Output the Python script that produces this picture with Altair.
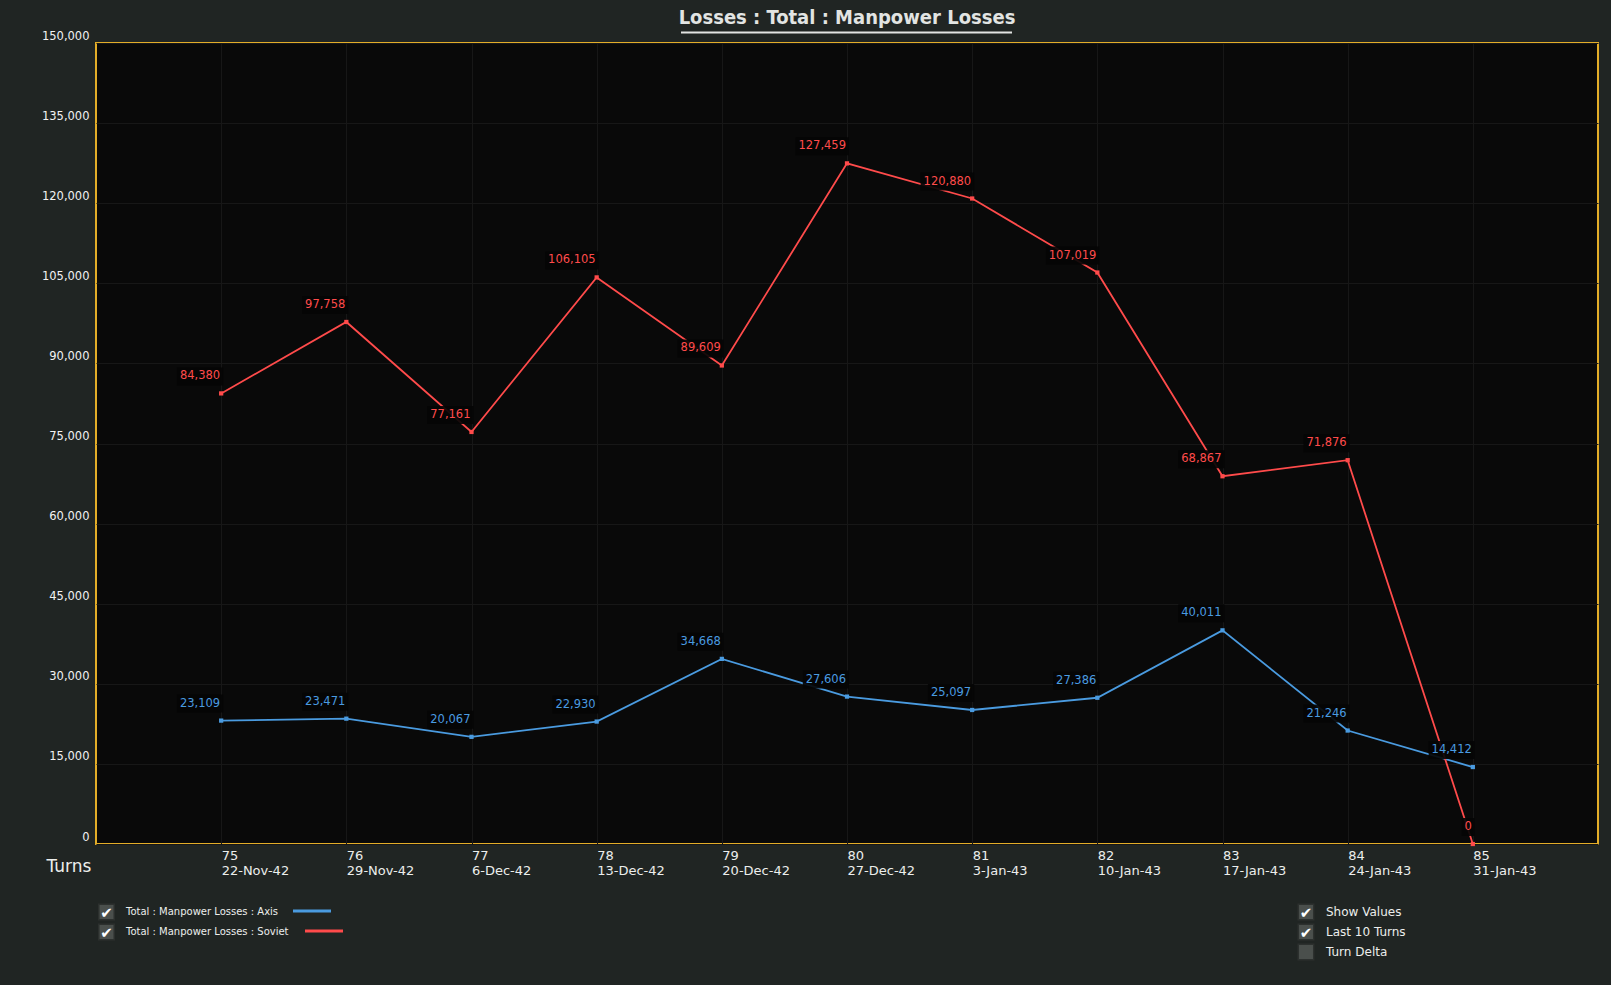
import altair as alt
import pandas as pd

# ---- data ----
turns = list(range(75, 86))
dates = ["22-Nov-42", "29-Nov-42", "6-Dec-42", "13-Dec-42", "20-Dec-42", "27-Dec-42",
         "3-Jan-43", "10-Jan-43", "17-Jan-43", "24-Jan-43", "31-Jan-43"]
axis_losses = [23109, 23471, 20067, 22930, 34668, 27606, 25097, 27386, 40011, 21246, 14412]
soviet_losses = [84380, 97758, 77161, 106105, 89609, 127459, 120880, 107019, 68867, 71876, 0]
sides = ["Axis", "Soviet"]
series_names = ["Total : Manpower Losses : Axis", "Total : Manpower Losses : Soviet"]
series_colors = ["#4a9be0", "#ff4b4b"]
y_ticks = list(range(0, 150001, 15000))
controls = ["Show Values", "Last 10 Turns", "Turn Delta"]
controls_checked = [True, True, False]
title_text = "Losses : Total : Manpower Losses"
x_title = "Turns"

rows = []
for side, vals in zip(sides, [axis_losses, soviet_losses]):
    for t, v in zip(turns, vals):
        lab = f"{v:,}"
        rows.append({"turn": t, "value": v, "side": side, "label": lab,
                     "ndig": sum(ch.isdigit() for ch in lab)})
df = pd.DataFrame(rows)

W, H = 1502, 801
FONT = "DejaVu Sans"
TXT = "#eceeec"
LFS = 11.5

date_lit = "[" + ",".join(f"'{d}'" for d in dates) + "]"

x = alt.X("turn:Q",
          scale=alt.Scale(domain=[74, 86], nice=False, zero=False),
          axis=alt.Axis(values=turns, format="d",
                        labelExpr=f"[datum.label, {date_lit}[datum.value - 75]]",
                        labelAlign="left", labelBaseline="top", labelPadding=5,
                        labelLineHeight=15, labelFont=FONT, labelFontSize=13,
                        labelColor=TXT, domain=False, ticks=False,
                        grid=True, gridColor="#171717", gridWidth=1,
                        title=x_title, titleFont=FONT, titleFontSize=17,
                        titleFontWeight="normal", titleColor=TXT,
                        titleAnchor="start", titleAlign="left", titleBaseline="middle",
                        titleX=-50, titleY=22, labelFlush=False, labelOverlap=False))
y = alt.Y("value:Q",
          scale=alt.Scale(domain=[0, 150000], nice=False),
          axis=alt.Axis(values=y_ticks, format=",d", labelFont=FONT, labelFontSize=11.5,
                        labelColor="#f2f2f2", labelBaseline="bottom", labelPadding=7,
                        labelOffset=-2,
                        domain=False, ticks=False, grid=True, gridColor="#171717",
                        gridWidth=1, title=None, labelFlush=False, labelOverlap=False))
y2 = alt.Y2("value:Q")
x2 = alt.X2("turn:Q")
color = alt.Color("side:N", scale=alt.Scale(domain=sides, range=series_colors), legend=None)

base = alt.Chart(df)
lines = base.mark_line(strokeWidth=1.8).encode(x=x, y=y, color=color, detail="side:N")
points = base.mark_square(size=18, opacity=1).encode(x=x, y=y, color=color)

layers = [lines, points]

# dark boxes behind value labels (width depends on digit count)
for nd in sorted(set(df["ndig"])):
    lab_w = LFS * (0.636 * nd + 0.318 * ((nd - 1) // 3))
    layers.append(base.transform_filter(alt.datum.ndig == nd).mark_rect(
        color="#050505", opacity=0.92, xOffset=-(lab_w + 4), x2Offset=2,
        yOffset=-26, y2Offset=-8).encode(x=x, x2=x2, y=y, y2=y2))

labels = base.mark_text(align="right", baseline="middle", dx=-1, dy=-17,
                        font=FONT, fontSize=LFS).encode(x=x, y=y, color=color, text="label:N")
layers.append(labels)

# title + underline
tdf = pd.DataFrame({"t": [title_text]})
layers.append(alt.Chart(tdf).mark_text(font="DejaVu Sans Condensed", fontWeight="bold",
                                        fontSize=20, color="#e2e4e2", align="center",
                                        baseline="middle").encode(
    x=alt.value(W / 2), y=alt.value(-25), text="t:N"))
layers.append(alt.Chart(tdf).mark_rule(color="#e2e4e2", strokeWidth=2).encode(
    x=alt.value(585), x2=alt.value(916), y=alt.value(-10.5)))

BOX = "#4a4f4c"


def checkbox(xp, yp, checked):
    d = pd.DataFrame({"c": ["\u2714"]})
    out = [alt.Chart(d).mark_square(size=240, color=BOX, opacity=1, stroke="#2c302e",
                                    strokeWidth=1.5).encode(x=alt.value(xp), y=alt.value(yp))]
    if checked:
        out.append(alt.Chart(d).mark_text(font=FONT, fontSize=15, color="#ffffff",
                                          align="center", baseline="middle").encode(
            x=alt.value(xp), y=alt.value(yp + 1), text="c:N"))
    return out


# legend (bottom left)
leg_y = [869, 889]
leg_line_x = [(197, 235), (209, 247)]
for name, col, yp, (lx1, lx2) in zip(series_names, series_colors, leg_y, leg_line_x):
    layers += checkbox(10.5, yp, True)
    d = pd.DataFrame({"n": [name]})
    layers.append(alt.Chart(d).mark_text(font=FONT, fontSize=10, color=TXT, align="left",
                                         baseline="middle").encode(
        x=alt.value(30), y=alt.value(yp), text="n:N"))
    layers.append(alt.Chart(d).mark_rule(color=col, strokeWidth=3).encode(
        x=alt.value(lx1), x2=alt.value(lx2), y=alt.value(yp - 1)))

# controls (bottom right)
ctl_y = [869, 889, 909]
for name, chk, yp in zip(controls, controls_checked, ctl_y):
    layers += checkbox(1210, yp, chk)
    d = pd.DataFrame({"n": [name]})
    layers.append(alt.Chart(d).mark_text(font=FONT, fontSize=12, color=TXT, align="left",
                                         baseline="middle").encode(
        x=alt.value(1230), y=alt.value(yp), text="n:N"))

chart = alt.layer(*layers).properties(
    width=W, height=H,
    autosize=alt.AutoSizeParams(type="none"),
    padding={"left": 96, "top": 43, "right": 13, "bottom": 141},
    background="#202523",
).configure_view(fill="#090909", stroke="#e3ad28", strokeWidth=2)

chart.save("out.html", embed_options={"renderer": "svg", "actions": False})
